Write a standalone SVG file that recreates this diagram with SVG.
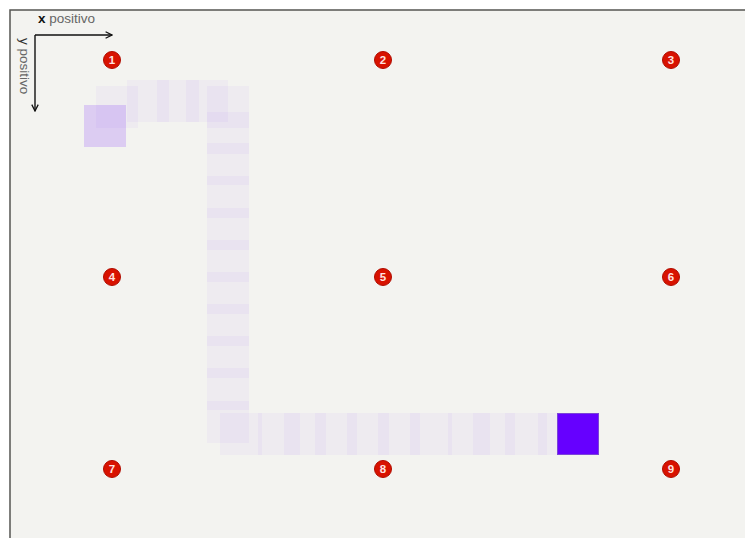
<svg xmlns="http://www.w3.org/2000/svg" width="745" height="538" viewBox="0 0 745 538">
<defs>
<style>
.bg{fill:#f3f3f0}
.frame{fill:none;stroke:#555552;stroke-width:1.5}
.ghost{fill:#6600ff;fill-opacity:0.033}
.start{fill:#6600ff;fill-opacity:0.16}
.final{fill:#6600ff;stroke:#7b44d8;stroke-width:1}
.mk circle{fill:#d81200;stroke:#b00c00;stroke-width:1}
.mk text{fill:#ffe3e0;font-family:"Liberation Sans",Arial,sans-serif;font-size:11.5px;font-weight:bold;text-anchor:middle}
.axis{stroke:#111;stroke-width:1.4;fill:none}
.lbl{font-family:"Liberation Sans",Arial,sans-serif;font-size:13.5px;fill:#666}
</style>
<marker id="ah" viewBox="0 0 10 10" refX="9" refY="5" markerWidth="8" markerHeight="8" orient="auto" markerUnits="userSpaceOnUse">
<path d="M1,1 L9,5 L1,9" fill="none" stroke="#111" stroke-width="1.6"/>
</marker>
</defs>
<rect x="0" y="0" width="745" height="538" fill="#ffffff"/>
<rect class="bg" x="10" y="10" width="735" height="528"/>
<path class="frame" d="M10,538 L10,10 L745,10"/>

<g id="axes">
<line class="axis" x1="35" y1="35" x2="112" y2="35" marker-end="url(#ah)"/>
<line class="axis" x1="35" y1="35" x2="35" y2="111" marker-end="url(#ah)"/>
<text class="lbl" x="38" y="23"><tspan font-weight="bold" fill="#111">x</tspan> positivo</text>
<text class="lbl" transform="translate(20,38) rotate(90)"><tspan fill="#333">y</tspan> positivo</text>
</g>

<g id="trail">
<rect class="ghost" x="96" y="86" width="42" height="42"/>
<rect class="ghost" x="127" y="80" width="42" height="42"/>
<rect class="ghost" x="157" y="80" width="42" height="42"/>
<rect class="ghost" x="186" y="80" width="42" height="42"/>
<rect class="ghost" x="207" y="86" width="42" height="42"/>
<rect class="ghost" x="207" y="112" width="42" height="42"/>
<rect class="ghost" x="207" y="143" width="42" height="42"/>
<rect class="ghost" x="207" y="176" width="42" height="42"/>
<rect class="ghost" x="207" y="208" width="42" height="42"/>
<rect class="ghost" x="207" y="240" width="42" height="42"/>
<rect class="ghost" x="207" y="272" width="42" height="42"/>
<rect class="ghost" x="207" y="304" width="42" height="42"/>
<rect class="ghost" x="207" y="336" width="42" height="42"/>
<rect class="ghost" x="207" y="368" width="42" height="42"/>
<rect class="ghost" x="207" y="401" width="42" height="42"/>
<rect class="ghost" x="220" y="413" width="42" height="42"/>
<rect class="ghost" x="258" y="413" width="42" height="42"/>
<rect class="ghost" x="284" y="413" width="42" height="42"/>
<rect class="ghost" x="315" y="413" width="42" height="42"/>
<rect class="ghost" x="347" y="413" width="42" height="42"/>
<rect class="ghost" x="378" y="413" width="42" height="42"/>
<rect class="ghost" x="410" y="413" width="42" height="42"/>
<rect class="ghost" x="448" y="413" width="42" height="42"/>
<rect class="ghost" x="473" y="413" width="42" height="42"/>
<rect class="ghost" x="505" y="413" width="42" height="42"/>
<rect class="ghost" x="538" y="413" width="42" height="42"/>
</g>

<g id="start-square"><rect class="start" x="84" y="105" width="42" height="42"/></g>
<g id="final-square"><rect class="final" x="557.5" y="413.5" width="41" height="41"/></g>

<g id="m1" class="mk"><circle cx="112" cy="60" r="8.5"/><text x="112" y="64">1</text></g>
<g id="m2" class="mk"><circle cx="383" cy="60" r="8.5"/><text x="383" y="64">2</text></g>
<g id="m3" class="mk"><circle cx="671" cy="60" r="8.5"/><text x="671" y="64">3</text></g>
<g id="m4" class="mk"><circle cx="112" cy="277" r="8.5"/><text x="112" y="281">4</text></g>
<g id="m5" class="mk"><circle cx="383" cy="277" r="8.5"/><text x="383" y="281">5</text></g>
<g id="m6" class="mk"><circle cx="671" cy="277" r="8.5"/><text x="671" y="281">6</text></g>
<g id="m7" class="mk"><circle cx="112" cy="469" r="8.5"/><text x="112" y="473">7</text></g>
<g id="m8" class="mk"><circle cx="383" cy="469" r="8.5"/><text x="383" y="473">8</text></g>
<g id="m9" class="mk"><circle cx="671" cy="469" r="8.5"/><text x="671" y="473">9</text></g>
</svg>
